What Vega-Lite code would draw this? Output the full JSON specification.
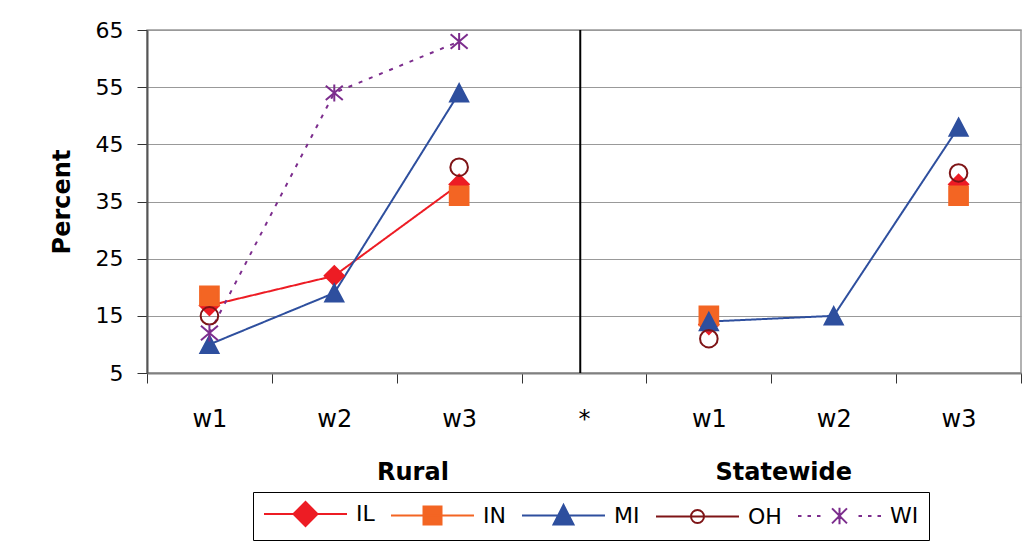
{
  "$schema": "https://vega.github.io/schema/vega-lite/v6.json",
  "width": 874,
  "height": 343,
  "autosize": {"type": "none"},
  "padding": {"left": 147, "top": 30, "right": 7, "bottom": 173},
  "background": "white",
  "config": {
    "font": "DejaVu Sans",
    "view": {"stroke": "#999999", "strokeWidth": 1.5},
    "axis": {"labelFont": "DejaVu Sans", "titleFont": "DejaVu Sans"},
    "legend": {"labelFont": "DejaVu Sans"}
  },
  "data": {
    "values": [
      {"group": "Rural", "wave": "R_w1", "state": "IL", "pct": 16.8},
      {"group": "Rural", "wave": "R_w1", "state": "IN", "pct": 18.5},
      {"group": "Rural", "wave": "R_w1", "state": "MI", "pct": 10},
      {"group": "Rural", "wave": "R_w1", "state": "OH", "pct": 15},
      {"group": "Rural", "wave": "R_w1", "state": "WI", "pct": 12},
      {"group": "Rural", "wave": "R_w2", "state": "IL", "pct": 22},
      {"group": "Rural", "wave": "R_w2", "state": "MI", "pct": 19},
      {"group": "Rural", "wave": "R_w2", "state": "WI", "pct": 54},
      {"group": "Rural", "wave": "R_w3", "state": "IL", "pct": 38},
      {"group": "Rural", "wave": "R_w3", "state": "IN", "pct": 36},
      {"group": "Rural", "wave": "R_w3", "state": "MI", "pct": 54},
      {"group": "Rural", "wave": "R_w3", "state": "OH", "pct": 41},
      {"group": "Rural", "wave": "R_w3", "state": "WI", "pct": 63},
      {"group": "Statewide", "wave": "S_w1", "state": "IL", "pct": 13.5},
      {"group": "Statewide", "wave": "S_w1", "state": "IN", "pct": 15},
      {"group": "Statewide", "wave": "S_w1", "state": "MI", "pct": 14},
      {"group": "Statewide", "wave": "S_w1", "state": "OH", "pct": 11},
      {"group": "Statewide", "wave": "S_w2", "state": "MI", "pct": 15},
      {"group": "Statewide", "wave": "S_w3", "state": "IL", "pct": 38},
      {"group": "Statewide", "wave": "S_w3", "state": "IN", "pct": 36},
      {"group": "Statewide", "wave": "S_w3", "state": "MI", "pct": 48},
      {"group": "Statewide", "wave": "S_w3", "state": "OH", "pct": 40}
    ]
  },
  "resolve": {"scale": {"fill": "independent", "stroke": "independent", "shape": "independent"}},
  "layer": [
    {
      "transform": [
        {"joinaggregate": [{"op": "count", "as": "n"}], "groupby": ["group", "state"]},
        {"filter": "datum.n >= 3"}
      ],
      "mark": {"type": "line", "strokeWidth": 2},
      "encoding": {
        "x": {
          "field": "wave", "type": "ordinal",
          "scale": {"type": "band", "domain": ["R_w1", "R_w2", "R_w3", "*", "S_w1", "S_w2", "S_w3"], "paddingInner": 0, "paddingOuter": 0},
          "axis": {
            "title": null,
            "labelExpr": "datum.label === '*' ? '*' : substring(datum.label, 2)",
            "tickBand": "extent",
            "labelFontSize": 24, "labelColor": "black", "labelPadding": 24, "labelAngle": 0,
            "domainColor": "#808080", "domainWidth": 2,
            "tickColor": "#333333", "tickSize": 10, "tickWidth": 1,
            "grid": false
          }
        },
        "y": {
          "field": "pct", "type": "quantitative",
          "scale": {"domain": [5, 65], "nice": false, "zero": false},
          "axis": {
            "title": "Percent",
            "values": [5, 15, 25, 35, 45, 55, 65],
            "grid": true, "gridColor": "#999999", "gridWidth": 1,
            "domainColor": "#555555", "domainWidth": 2,
            "tickColor": "#333333", "tickSize": 10, "tickWidth": 1,
            "labelFontSize": 22, "labelColor": "black", "labelPadding": 14,
            "titleFontSize": 24, "titleFontWeight": "bold", "titleColor": "black", "titlePadding": 21
          }
        },
        "stroke": {
          "field": "state", "type": "nominal",
          "scale": {"domain": ["IL", "IN", "MI", "OH", "WI"], "range": ["#ED1C24", "#F36523", "#2E4F9E", "#7E1416", "#7C2D8D"]},
          "legend": null
        },
        "strokeDash": {
          "field": "state", "type": "nominal",
          "scale": {"domain": ["IL", "IN", "MI", "OH", "WI"], "range": [[1, 0], [1, 0], [1, 0], [1, 0], [4, 7]]},
          "legend": null
        },
        "detail": {"field": "group"}
      }
    },
    {
      "data": {"values": [{}]},
      "mark": {"type": "rule", "color": "black", "strokeWidth": 2},
      "encoding": {
        "x": {"datum": "*", "type": "ordinal", "bandPosition": 0.47}
      }
    },
    {
      "mark": {"type": "point", "filled": true, "opacity": 1, "strokeWidth": 2},
      "encoding": {
        "x": {"field": "wave", "type": "ordinal"},
        "y": {"field": "pct", "type": "quantitative"},
        "fill": {
          "field": "state", "type": "nominal",
          "scale": {"domain": ["IL", "IN", "MI", "OH", "WI"], "range": ["#ED1C24", "#F36523", "#2E4F9E", "transparent", "#7C2D8D"]},
          "legend": null
        },
        "stroke": {
          "field": "state", "type": "nominal",
          "scale": {"domain": ["IL", "IN", "MI", "OH", "WI"], "range": ["#ED1C24", "#F36523", "#2E4F9E", "#7E1416", "#7C2D8D"]},
          "legend": null
        },
        "shape": {
          "field": "state", "type": "nominal",
          "scale": {"domain": ["IL", "IN", "MI", "OH", "WI"], "range": ["diamond", "square", "M0,-0.95L1,0.95L-1,0.95Z", "circle", "M-1,-0.85L1,0.85M-1,0.85L1,-0.85M0,-1L0,1"]},
          "legend": null
        },
        "size": {
          "field": "state", "type": "nominal",
          "scale": {"domain": ["IL", "IN", "MI", "OH", "WI"], "range": [369, 289, 400, 350, 484]},
          "legend": null
        }
      }
    },
    {
      "transform": [{"filter": "false"}],
      "mark": {"type": "point", "filled": true, "opacity": 1, "strokeWidth": 2, "size": 484},
      "encoding": {
        "fill": {
          "field": "state", "type": "nominal",
          "scale": {"domain": ["IL", "IN", "MI", "OH", "WI"], "range": ["#ED1C24", "#F36523", "#2E4F9E", "transparent", "#7C2D8D"]},
          "legend": {
            "title": null, "orient": "none", "legendX": 106, "legendY": 462,
            "direction": "horizontal", "columns": 5,
            "strokeColor": "black", "padding": 10, "columnPadding": 12,
            "labelFontSize": 22, "labelColor": "black", "labelOffset": 69,
            "symbolSize": 484, "symbolStrokeWidth": 2, "symbolOpacity": 1
          }
        },
        "stroke": {
          "field": "state", "type": "nominal",
          "scale": {"domain": ["IL", "IN", "MI", "OH", "WI"], "range": ["#ED1C24", "#F36523", "#2E4F9E", "#7E1416", "#7C2D8D"]},
          "legend": {
            "title": null, "orient": "none", "legendX": 106, "legendY": 462,
            "direction": "horizontal", "columns": 5,
            "strokeColor": "black", "padding": 10, "columnPadding": 12,
            "labelFontSize": 22, "labelColor": "black", "labelOffset": 69,
            "symbolSize": 484, "symbolStrokeWidth": 2, "symbolOpacity": 1
          }
        },
        "shape": {
          "field": "state", "type": "nominal",
          "scale": {
            "domain": ["IL", "IN", "MI", "OH", "WI"],
            "range": [
              "M-1,0H6.545M1.68,0L2.773,-1.09L3.864,0L2.773,1.09Z",
              "M-1,0H6.545M1.955,-0.818H3.591V0.818H1.955Z",
              "M-1,0H6.545M2.773,-0.95L3.682,0.818H1.864Z",
              "M-1,0H6.545M2.182,0A0.591,0.591 0 1,0 3.364,0A0.591,0.591 0 1,0 2.182,0",
              "M-1,0H-0.682M-0.136,0H0.182M0.727,0H1.045M4.5,0H4.818M5.364,0H5.682M6.227,0H6.545M2.093,-0.68L3.453,0.68M2.093,0.68L3.453,-0.68M2.773,-0.75V0.75"
            ]
          },
          "legend": {
            "title": null, "orient": "none", "legendX": 106, "legendY": 462,
            "direction": "horizontal", "columns": 5,
            "strokeColor": "black", "padding": 10, "columnPadding": 12,
            "labelFontSize": 22, "labelColor": "black", "labelOffset": 69,
            "symbolSize": 484, "symbolStrokeWidth": 2, "symbolOpacity": 1
          }
        }
      }
    },
    {
      "data": {"values": [{}]},
      "mark": {"type": "text", "text": "Rural", "fontSize": 24, "fontWeight": "bold", "font": "DejaVu Sans", "color": "black", "baseline": "middle", "align": "center"},
      "encoding": {
        "x": {"datum": "R_w3", "type": "ordinal", "bandPosition": 0.13},
        "y": {"datum": -12.5, "type": "quantitative"}
      }
    },
    {
      "data": {"values": [{}]},
      "mark": {"type": "text", "text": "Statewide", "fontSize": 24, "fontWeight": "bold", "font": "DejaVu Sans", "color": "black", "baseline": "middle", "align": "center"},
      "encoding": {
        "x": {"datum": "S_w2", "type": "ordinal", "bandPosition": 0.10},
        "y": {"datum": -12.5, "type": "quantitative"}
      }
    }
  ]
}
